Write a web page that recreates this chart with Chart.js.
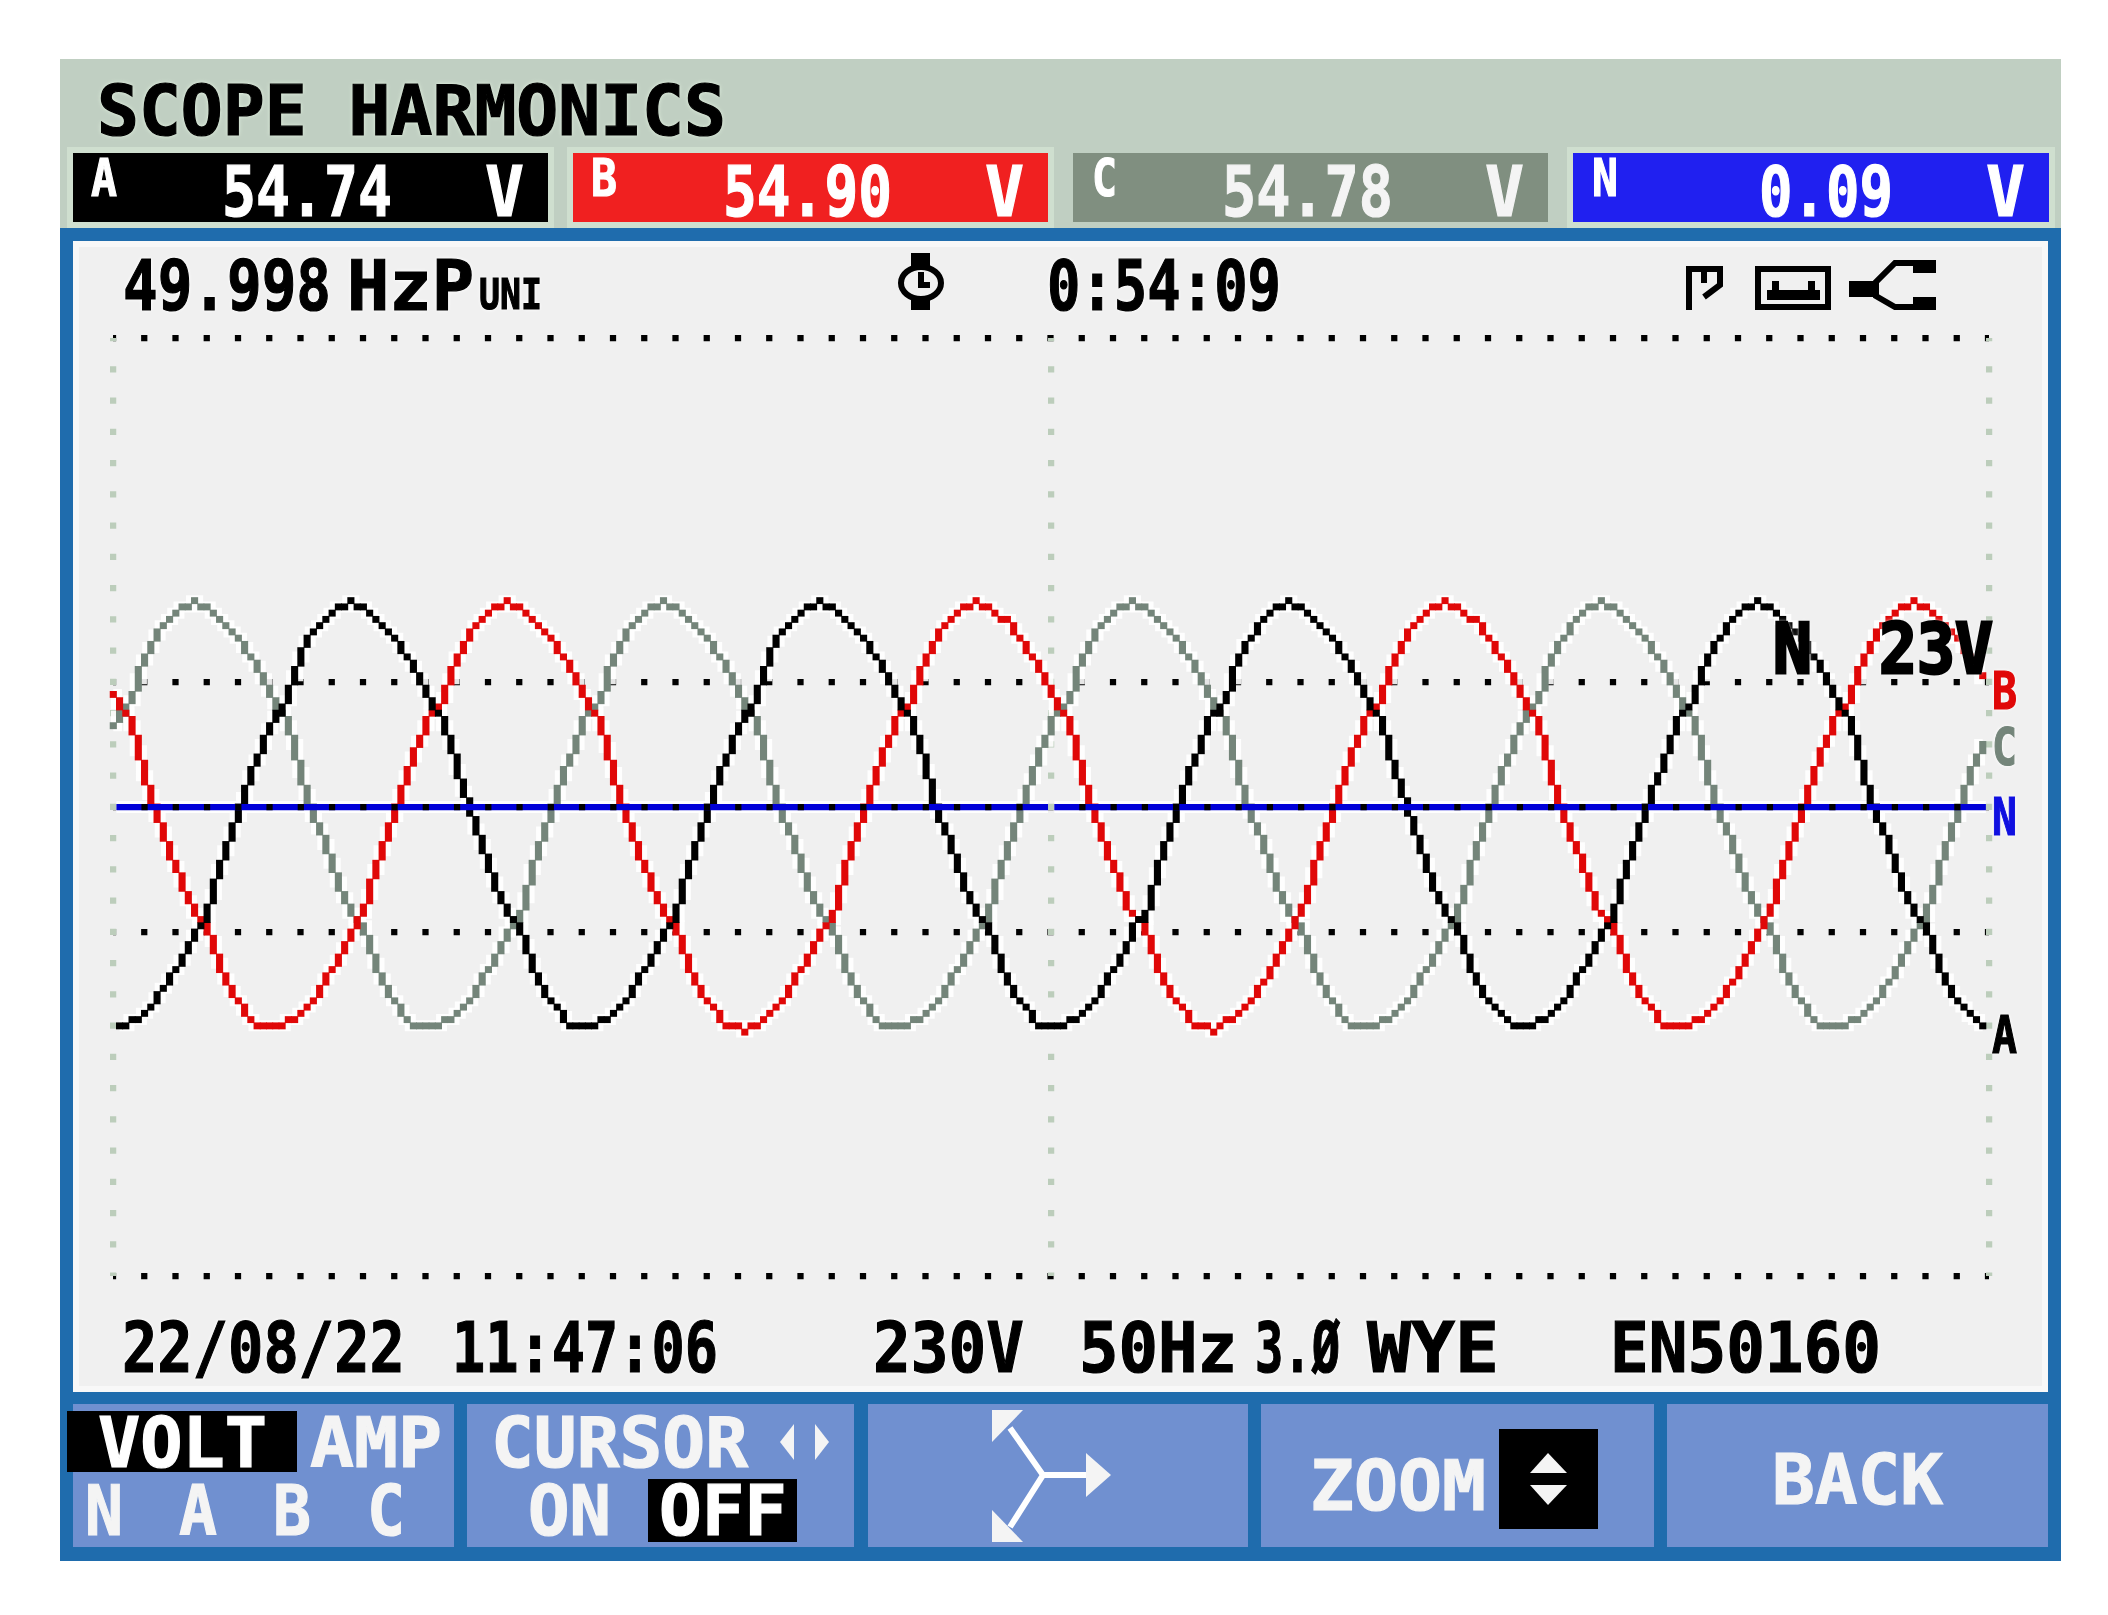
<!DOCTYPE html>
<html>
<head>
<meta charset="utf-8">
<title>SCOPE HARMONICS</title>
<script src="https://cdn.jsdelivr.net/npm/chart.js@4"></script>
<style>
html, body { margin: 0; padding: 0; background: #fff; }
#page { position: relative; width: 2108px; height: 1615px; overflow: hidden; }
.box { position: absolute; }
.txt { position: absolute; white-space: pre; font-family: "DejaVu Sans Mono"; font-weight: bold; line-height: 1; transform-origin: 0 0; }
canvas, svg { position: absolute; left: 0; top: 0; }
</style>
</head>
<body>
<div id="page">
<div id="back"></div>
<canvas id="scope" width="2108" height="1615"></canvas>
</div>
<script>
// one value per screen column, in screen rows above / below the zero line
const traceA = [
  null,-35,-35,-34,-34,-33,-32,-30.5,-29,-27.5,-26,-24.5,-22.5,-20.5,-19,-17.5,-14,-10,-7,-4,-1.5,1.5,5,7.5,10,
  12.5,14.5,15,17,21,24,26.5,28,29,30,31,32,32,33,32,32,31,30,29,28,27,25.5,24,22.5,20.5,
  18.5,16.5,15,13,10,6,2.5,0,-3.5,-6,-9,-12,-14.5,-17,-18,-19.5,-22,-25,-27.5,-29.5,-31,-32,-33.5,-35,-35,
  -35,-35,-35,-34,-34,-33,-32,-31,-29.5,-27.5,-26,-24.5,-22.5,-20.5,-19,-17.5,-14,-10,-7,-4,-1.5,1.5,5,7.5,10,
  12.5,14.5,15,17,21,24,26.5,28,29,30,31,32,32,33,32,32,31,30,29,28,27,25.5,24,22.5,20.5,
  18.5,16,15,13,10,6,2,-1,-3.5,-6,-9,-12,-14.5,-17,-18,-19,-21.5,-25,-27.5,-29.5,-31,-32,-33.5,-35,-35,
  -35,-35,-35,-34,-34,-33,-32,-31,-29.5,-27.5,-26,-24.5,-22.5,-20,-18,-18,-15,-10.5,-7,-4,-1.5,2,5,7.5,10,
  13,15,15,17,20.5,23.5,26,27,28.5,30,31,32,32,33,32,32,31,30,29,28,27,25.5,24,22.5,20.5,
  18.5,16,15,13,10,5.5,2.5,0,-3.5,-6,-9,-12,-14.5,-17,-18,-19.5,-21.5,-25,-27.5,-29.5,-31,-32,-33.5,-34,-35,
  -35,-35,-35,-34,-34,-33,-32,-31,-29.5,-27.5,-26,-24.5,-22.5,-20.5,-19,-17.5,-14,-10,-7,-4,-1.5,2,4.5,7,10,
  13,15,16,17.5,21,23.5,25.5,27,28.5,30,31,32,32,33,32,32,31,30,29,28,27,25.5,24,22.5,20.5,
  18.5,16.5,15,13,9,5,2,-1,-3.5,-6,-9,-12,-14.5,-17,-18,-19.5,-21.5,-25,-27.5,-29.5,-31,-32,-33.5,-34,-35
];
const traceB = [
  18,16.5,15,13,9,5,2,-1.5,-4,-7,-9.5,-12,-15,-17,-18,-19,-21.5,-25,-27.5,-29.5,-31,-32.5,-34,-35,-35,
  -35,-35,-35,-34,-34,-33,-32,-31,-29.5,-27.5,-26,-24.5,-22.5,-20.5,-19,-17,-14,-10,-7,-4,-1.5,2,5,8,10.5,
  13,15,16,17.5,20.5,24,25.5,27.5,29,30,31,32,32,33,32,32,31,30,29,28,27,25.5,24,22.5,20.5,
  18,16,15,13,9.5,5.5,2,-1.5,-4,-7,-9.5,-12,-14.5,-17,-18,-19,-21.5,-25,-27.5,-29.5,-31,-32,-33.5,-35,-35,
  -35,-36,-35,-35,-34,-33,-32,-31,-29.5,-27.5,-26,-24.5,-22.5,-20.5,-19,-18,-14.5,-10,-7,-4,-1.5,2,5,8,10.5,
  13,15,16,17.5,21,23.5,25.5,27.5,29,30,31,32,32,33,32,32,31,30,30,28.5,27,25.5,24,22.5,20.5,
  18,16,15,13,9,5.5,2,-1.5,-4,-7,-9.5,-12,-15,-17.5,-18,-19,-21.5,-25,-27.5,-29.5,-31,-32,-33.5,-35,-35,
  -35,-36,-35,-34,-34,-33,-32,-31,-29.5,-28,-26.5,-24.5,-22.5,-20.5,-18,-17,-14.5,-10.5,-7,-4,-1.5,2,5,8,10.5,
  13,15,16,17.5,20.5,23.5,25.5,27.5,29,30,31,32,32,33,32,32,31,30,30,28.5,27,25.5,24,22.5,20.5,
  18.5,16.5,15,13,9,5,2,-1.5,-4,-6.5,-9,-12,-15,-17.5,-18,-19.5,-21.5,-25,-27.5,-29.5,-31,-32,-33.5,-35,-35,
  -35,-35,-35,-34,-34,-33,-32,-31,-29.5,-28,-26.5,-24.5,-22.5,-20.5,-19,-17,-14,-10,-7,-4,-1.5,2,5,8,10.5,
  13,15,16,17.5,20.5,23.5,25.5,27.5,29,30,31,32,32,33,32,32,31,30,29,28,27,25.5,24,22.5,20.5
];
const traceC = [
  13,14.5,15,17,20.5,23.5,25.5,27.5,29,30,31,32,32,33,32,32,31,30,29,28,27,25.5,24,22.5,20.5,
  18.5,16.5,15,13,10,5.5,2,-1.5,-3.5,-6,-9,-12,-14.5,-17,-18,-19,-21.5,-25,-27.5,-29.5,-31,-32.5,-34,-35,-35,
  -35,-35,-35,-34,-34,-33,-32,-31,-29.5,-27.5,-26,-24.5,-22.5,-20,-18.5,-18,-14.5,-10,-7,-4,-1.5,2,5,7.5,10,
  13,15,15.5,17,20.5,23.5,25.5,27.5,29,30,31,32,32,33,32,32,31,30,29,28,27,25.5,24,22.5,20.5,
  18.5,16.5,15,13,10,5.5,2,-1.5,-3.5,-6,-9,-12,-14.5,-17,-18,-20,-21.5,-25,-27.5,-29.5,-31,-32.5,-34,-35,-35,
  -35,-35,-35,-34,-34,-33,-32,-31,-29.5,-27.5,-26,-24.5,-22.5,-20.5,-19,-17.5,-14,-10,-7,-4,-1.5,2,4.5,7.5,10.5,
  13,15,15.5,17,20.5,23.5,25.5,27.5,29,30,31,32,32,33,32,32,31,30,29,28,27,25.5,24,22.5,20.5,
  18,16,15,13,10,5.5,2,-1,-3.5,-6,-9,-12,-14.5,-17.5,-18,-19,-21.5,-25,-27.5,-29.5,-31,-32.5,-34,-35,-35,
  -35,-35,-35,-34,-34,-33,-32,-31,-29.5,-27.5,-26,-24.5,-22.5,-20.5,-19,-17.5,-14.5,-10,-7,-4,-1.5,2,4.5,7.5,10,
  12.5,14.5,15.5,17,20.5,23.5,25.5,27,28.5,30,31,32,32,33,32,32,31,30,29,28,27,25.5,24,22.5,20.5,
  18.5,16,15,13,9,5,2,-1,-3.5,-6,-9,-12,-14.5,-17,-18,-19.5,-21.5,-25,-27.5,-29.5,-31,-32.5,-34,-35,-35,
  -35,-35,-35,-34,-34,-33,-32,-31,-29.5,-28,-26.5,-24.5,-22.5,-20.5,-19,-17.5,-14.5,-10,-7,-4,-1.5,2,4.5,7.5,10
];
// neutral is flat on the zero line, with a break at the centre division
const neutralCols = [0.5, 149.5, 150, 150.5, 299.5];
const traceN = [0, 0, null, 0, 0];
// the dotted zero line shows through on top of the neutral
const zeroCols = [2.5, 147.5, 150, 152.5, 297.5];
const zeroDots = [0, 0, null, 0, 0];
const yTicks = [-75, -20, 0, 20, 75];

const COL_BLACK = '#000000';
const COL_RED = '#e00808';
const COL_GREY = '#74857a';
const COL_BLUE = '#0000d8';
const HALO = 'rgba(255,255,255,0.9)';
const DOT = 6.25;
const page = document.getElementById('page');
const back = document.getElementById('back');

function block(x0, y0, x1, y1, color) {
    const d = document.createElement('div');
    d.className = 'box';
    d.style.left = x0 + 'px';
    d.style.top = y0 + 'px';
    d.style.width = (x1 - x0) + 'px';
    d.style.height = (y1 - y0) + 'px';
    d.style.background = color;
    back.appendChild(d);
}

// squeeze or stretch a real text run so that it sits on the x0..x1, y0..y1 box
function label(t, x0, y0, x1, y1, color, shadow, stroke) {
    const s = document.createElement('span');
    s.className = 'txt';
    s.textContent = t;
    const size = (y1 - y0) / 0.729;
    s.style.fontSize = size + 'px';
    s.style.color = color;
    s.style.left = x0 + 'px';
    s.style.top = (y0 - 0.117 * size) + 'px';
    if (shadow) s.style.textShadow = '0 0 3px ' + shadow + ', 0 0 5px ' + shadow;
    s.style.webkitTextStroke = (stroke || 1.2) + 'px ' + color;
    page.appendChild(s);
    s.style.transform = 'scaleX(' + ((x1 - x0) / s.getBoundingClientRect().width) + ')';
}

// panels, back to front
block(60, 59, 2061, 228, '#c0cfc2');
block(67, 147, 554, 228, '#cfdfcf');
block(567, 147, 1054, 228, '#cfdfcf');
block(1567, 147, 2055, 228, '#cfdfcf');
block(73, 153, 548, 222, '#000000');
block(573, 153, 1048, 222, '#f02020');
block(1073, 153, 1548, 222, '#808f80');
block(1573, 153, 2049, 222, '#2020f0');
block(60, 228, 2061, 1561, '#1f6cad');
block(73, 241, 2048, 1392, '#f8f8f8');
block(79, 247, 2042, 1386, '#f0f0f0');
block(73, 1404, 454, 1547, '#7090d0');
block(467, 1404, 854, 1547, '#7090d0');
block(868, 1404, 1248, 1547, '#7090d0');
block(1261, 1404, 1654, 1547, '#7090d0');
block(1667, 1404, 2048, 1547, '#7090d0');
block(67, 1411, 297, 1472, '#000000');
block(648, 1479, 797, 1542, '#000000');
block(1499, 1429, 1598, 1529, '#000000');

label('SCOPE HARMONICS', 97, 85, 726, 135, '#000000', '#dfeedd');
label('A', 91, 160, 117, 197, '#ffffff');
label('54.74', 222, 166, 392, 216, '#ffffff');
label('V', 485, 166, 524, 216, '#ffffff');
label('B', 591, 160, 617, 197, '#ffffff');
label('54.90', 723, 166, 892, 216, '#ffffff');
label('V', 985, 166, 1024, 216, '#ffffff');
label('C', 1092, 160, 1117, 197, '#ffffff');
label('54.78', 1222, 166, 1393, 216, '#f4f4f4');
label('V', 1485, 166, 1524, 216, '#f4f4f4');
label('N', 1592, 160, 1618, 197, '#ffffff');
label('0.09', 1759, 166, 1893, 216, '#ffffff');
label('V', 1986, 166, 2025, 216, '#ffffff');

label('49.998', 123, 260, 331, 310, '#000000', '#ffffff');
label('HzP', 347, 260, 474, 310, '#000000', '#ffffff');
label('UNI', 479, 279, 542, 310, '#000000', '#ffffff');
label('0:54:09', 1047, 260, 1281, 310, '#000000', '#ffffff');

label('N', 1773, 623, 1812, 673, '#000000', '#ffffff', 3);
label('23V', 1879, 623, 1993, 673, '#000000', '#ffffff', 3);
label('B', 1992, 673, 2017, 710, COL_RED, '#ffffff');
label('C', 1992, 729, 2017, 766, COL_GREY, '#ffffff');
label('N', 1992, 797, 2017, 835, '#1010e0', '#ffffff');
label('A', 1992, 1017, 2017, 1054, COL_BLACK, '#ffffff');

label('22/08/22', 122, 1322, 405, 1372, '#000000', '#ffffff');
label('11:47:06', 452, 1322, 718, 1372, '#000000', '#ffffff');
label('230V', 873, 1322, 1024, 1372, '#000000', '#ffffff');
label('50Hz', 1079, 1322, 1237, 1372, '#000000', '#ffffff');
label('3.Ø', 1255, 1322, 1340, 1372, '#000000', '#ffffff');
label('WYE', 1367, 1322, 1499, 1372, '#000000', '#ffffff');
label('EN50160', 1610, 1322, 1881, 1372, '#000000', '#ffffff');

label('VOLT', 98, 1417, 267, 1467, '#ffffff');
label('AMP', 310, 1417, 442, 1467, '#f4f4f4');
label('N', 85, 1485, 123, 1535, '#f4f4f4');
label('A', 179, 1485, 217, 1535, '#f4f4f4');
label('B', 273, 1485, 311, 1535, '#f4f4f4');
label('C', 367, 1485, 405, 1535, '#f4f4f4');
label('CURSOR', 491, 1417, 748, 1467, '#f4f4f4');
label('ON', 528, 1485, 611, 1535, '#f4f4f4');
label('OFF', 659, 1485, 787, 1535, '#ffffff');
label('ZOOM', 1310, 1460, 1486, 1510, '#f4f4f4');
label('BACK', 1772, 1453, 1943, 1504, '#f4f4f4');

// status icons and softkey arrows
page.insertAdjacentHTML('beforeend', `
<svg width="2108" height="1615" viewBox="0 0 2108 1615">
  <g fill="#000">
    <rect x="911" y="253" width="19" height="17"/><rect x="911" y="297" width="19" height="13"/>
    <rect x="1686" y="266" width="6" height="44"/>
    <rect x="1767" y="290" width="53" height="10"/><rect x="1772" y="281" width="7" height="10"/><rect x="1808" y="281" width="7" height="10"/>
    <rect x="1849" y="281" width="24" height="16"/><rect x="1913" y="260" width="23" height="13"/><rect x="1913" y="297" width="23" height="13"/>
  </g>
  <g fill="none" stroke="#000" stroke-width="6">
    <ellipse cx="921" cy="283" rx="20" ry="16"/>
    <path d="M921 272V285H930"/>
    <path d="M1689 269H1720V285L1704 297M1704 269V283"/>
    <rect x="1758" y="269" width="70" height="38"/>
    <path d="M1913 263H1895L1876 282V296L1895 307H1913"/>
  </g>
  <g fill="#f4f4f4">
    <path d="M780 1442L794 1424V1460Z"/><path d="M829 1442L815 1424V1460Z"/>
    <path d="M1548 1453L1567 1473H1530Z"/><path d="M1548 1505L1567 1485H1530Z"/>
    <path d="M992 1410H1023L992 1442Z"/><path d="M992 1510L1023 1542H992Z"/><path d="M1086 1453L1111 1475L1086 1497Z"/>
  </g>
  <path d="M1010 1428L1043 1475L1010 1527M1043 1475H1086" fill="none" stroke="#fff" stroke-width="6"/>
</svg>`);

function pts(xs, ys) {
    return ys.map((v, i) => ({ x: xs ? xs[i] : i, y: v }));
}

function lineSet(ys, color, width, stepped, xs) {
    return {
        type: 'line',
        data: pts(xs, ys),
        borderColor: color,
        borderWidth: width,
        stepped: stepped,
        pointRadius: 0,
        borderCapStyle: 'butt',
        borderJoinStyle: 'miter',
        clip: false,
        spanGaps: false
    };
}

// the screen lights whole rows: each column runs from where it meets the column
// before to where it meets the column after, snapped to the row edges
function columnSpans(trace) {
    const snap = r => Math.floor(r) + 0.5;
    const spans = [];
    trace.forEach((v, i) => {
        if (v === null) return;
        const prev = trace[i - 1] == null ? v : trace[i - 1];
        const next = trace[i + 1] == null ? v : trace[i + 1];
        const a = (prev + v) / 2, b = (next + v) / 2;
        spans.push({ x: i, y: [snap(Math.min(v - 0.5, a, b)), snap(Math.max(v + 0.5, a, b))] });
    });
    return spans;
}

function barSet(trace, color) {
    return {
        type: 'bar',
        data: columnSpans(trace),
        backgroundColor: color,
        borderWidth: 0,
        barThickness: DOT + 0.2,
        grouped: false,
        clip: false
    };
}

const zeroSet = lineSet(zeroDots, COL_BLACK, DOT, false, zeroCols);
zeroSet.borderDash = [DOT, DOT * 4];
zeroSet.borderDashOffset = DOT * 3;

// chart.js paints the first dataset last, so the top layer goes first
new Chart(document.getElementById('scope'), {
    type: 'line',
    data: {
        datasets: [
            zeroSet,
            lineSet(traceN, COL_BLUE, DOT, false, neutralCols),
            barSet(traceA, COL_BLACK),
            barSet(traceB, COL_RED),
            barSet(traceC, COL_GREY),
            lineSet(traceA, HALO, 11, 'middle'),
            lineSet(traceB, HALO, 11, 'middle'),
            lineSet(traceC, HALO, 11, 'middle'),
            lineSet(traceN, HALO, 12, false, neutralCols)
        ]
    },
    options: {
        responsive: false,
        animation: false,
        layout: { padding: { left: 113.3, right: 119, top: 338, bottom: 339 } },
        plugins: { legend: { display: false }, tooltip: { enabled: false } },
        scales: {
            x: {
                type: 'linear',
                min: 0,
                max: 300,
                offset: false,
                ticks: { display: false, stepSize: 150 },
                border: { display: false, dash: [DOT, DOT * 4], dashOffset: DOT / 2 },
                grid: { color: '#bccdbb', lineWidth: DOT, drawTicks: false, z: -1, offset: false }
            },
            y: {
                type: 'linear',
                min: -75,
                max: 75,
                afterBuildTicks: axis => { axis.ticks = yTicks.map(v => ({ value: v })); },
                ticks: { display: false },
                border: { display: false, dash: [DOT, DOT * 4], dashOffset: DOT / 2 },
                grid: { color: COL_BLACK, lineWidth: DOT, drawTicks: false, z: -2 }
            }
        }
    }
});
</script>
</body>
</html>
